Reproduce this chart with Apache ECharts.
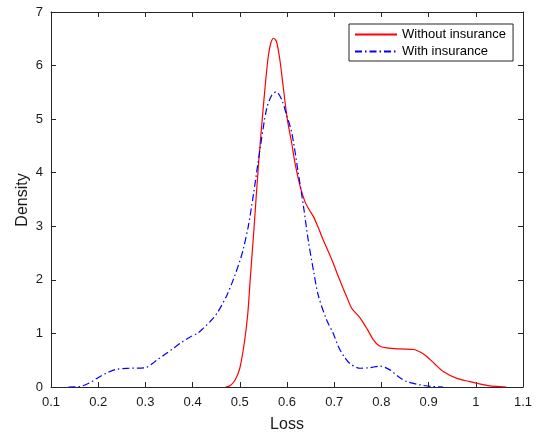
<!DOCTYPE html>
<html>
<head>
<meta charset="utf-8">
<script src="https://cdn.jsdelivr.net/npm/echarts@6/dist/echarts.min.js"></script>
<style>html,body{margin:0;padding:0;background:#fff}#c{width:539px;height:439px}</style>
</head>
<body>
<div id="c"></div>
<script>
var seriesNames = ['Without insurance', 'With insurance'];
var xTicks = [0.1,0.2,0.3,0.4,0.5,0.6,0.7,0.8,0.9,1,1.1];
var yTicks = [0,1,2,3,4,5,6,7];

var lossRed = [0.470,0.480,0.490,0.500,0.510,0.517,0.522,0.530,0.540,0.550,0.560,0.566,0.572,0.578,0.585,0.592,0.601,0.610,0.617,0.628,0.638,0.647,0.656,0.666,0.677,0.688,0.698,0.708,0.719,0.728,0.737,0.748,0.758,0.770,0.783,0.795,0.811,0.840,0.868,0.885,0.896,0.913,0.931,0.960,0.988,1.002,1.030,1.058,1.065];
var densRed = [0,0.03,0.13,0.35,0.85,1.38,2.0,2.95,4.2,5.25,6.15,6.43,6.51,6.44,6.1,5.6,4.98,4.55,4.18,3.74,3.46,3.31,3.18,2.98,2.74,2.52,2.31,2.08,1.84,1.65,1.47,1.36,1.25,1.08,0.88,0.77,0.73,0.71,0.70,0.64,0.57,0.43,0.29,0.16,0.10,0.07,0.02,0.003,0];

var lossBlue = [0.137,0.161,0.180,0.197,0.218,0.239,0.267,0.299,0.312,0.324,0.340,0.359,0.376,0.394,0.410,0.423,0.437,0.452,0.472,0.486,0.500,0.507,0.518,0.529,0.543,0.557,0.568,0.577,0.589,0.600,0.610,0.624,0.635,0.645,0.656,0.666,0.684,0.698,0.709,0.720,0.733,0.755,0.775,0.797,0.818,0.835,0.854,0.882,0.905,0.931];
var densBlue = [0,0.01,0.07,0.16,0.26,0.33,0.35,0.36,0.42,0.50,0.60,0.72,0.83,0.93,1.0,1.10,1.22,1.38,1.70,2.0,2.35,2.56,3.0,3.6,4.45,5.2,5.45,5.51,5.36,5.05,4.75,3.99,3.37,2.74,2.18,1.72,1.25,1.0,0.75,0.58,0.44,0.35,0.36,0.39,0.32,0.2,0.10,0.04,0.01,0];

function pairs(xs, ys){ var o=[]; for(var i=0;i<xs.length;i++) o.push([xs[i], ys[i]]); return o; }

var axisColor = '#262626';
var font = 'Liberation Sans, Arial, Helvetica, sans-serif';
var chart = echarts.init(document.getElementById('c'), null, {renderer:'canvas'});
function xAx(pos, show){
  return {
    type:'value', position:pos, min:xTicks[0], max:xTicks[xTicks.length-1], interval:0.1,
    axisLine:{show:true, onZero:false, lineStyle:{color:axisColor, width:1}},
    axisTick:{show:true, inside:true, length:5, lineStyle:{color:axisColor}},
    splitLine:{show:false},
    axisLabel:{show:show, color:'#1a1a1a', fontSize:13, fontFamily:font, margin:9,
      formatter:function(v){ return String(+v.toFixed(1)); }},
    name: show ? 'Loss' : '', nameLocation:'middle', nameGap:30,
    nameTextStyle:{color:'#1a1a1a', fontSize:16, fontFamily:font}
  };
}
function yAx(pos, show){
  return {
    type:'value', position:pos, min:yTicks[0], max:yTicks[yTicks.length-1], interval:1,
    axisLine:{show:true, onZero:false, lineStyle:{color:axisColor, width:1}},
    axisTick:{show:true, inside:true, length:5, lineStyle:{color:axisColor}},
    splitLine:{show:false},
    axisLabel:{show:show, color:'#1a1a1a', fontSize:13, fontFamily:font, margin:8}
  };
}
chart.setOption({
  animation:false,
  backgroundColor:'#fff',
  grid:{left:51, right:16, top:12, bottom:52, containLabel:false},
  xAxis:[xAx('bottom', true), xAx('top', false)],
  yAxis:[yAx('left', true), yAx('right', false)],
  graphic:[{
    type:'text', x:23, y:200, rotation:Math.PI/2,
    style:{text:'Density', fill:'#1a1a1a', fontSize:16, fontFamily:font, textAlign:'center', textVerticalAlign:'middle'}
  }],
  legend:{
    orient:'vertical', left:349, top:24,
    padding:[4,7,3,5], itemGap:4, itemWidth:42, itemHeight:14,
    borderColor:axisColor, borderWidth:1, backgroundColor:'#fff',
    itemStyle:{opacity:0},
    textStyle:{color:'#000', fontSize:13, fontFamily:font},
    data:seriesNames
  },
  series:[
    {name:seriesNames[0], type:'line', data:pairs(lossRed, densRed), smooth:0.3, showSymbol:false, symbol:'none',
      lineStyle:{color:'#ff0000', width:1.2}, itemStyle:{color:'#ff0000'}},
    {name:seriesNames[1], type:'line', data:pairs(lossBlue, densBlue), smooth:0.3, showSymbol:false, symbol:'none',
      lineStyle:{color:'#0000ff', width:1.2, type:[7,3,1.5,3]}, itemStyle:{color:'#0000ff'}}
  ]
});
</script>
</body>
</html>
